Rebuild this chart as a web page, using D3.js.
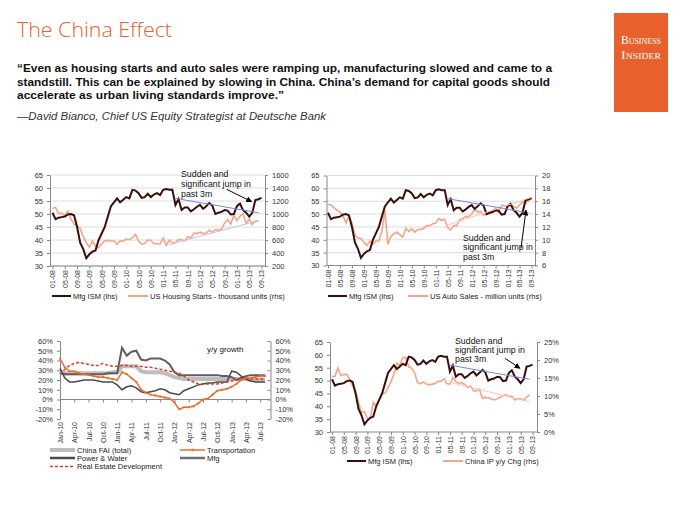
<!DOCTYPE html>
<html><head><meta charset="utf-8">
<script src="https://cdn.jsdelivr.net/npm/d3@7"></script>
<style>body{margin:0;background:#fff}svg{display:block}</style>
</head><body><svg id="c" width="700" height="525"></svg>
<script>
// ---------- DATA ----------
// Monthly, Jan-2008 .. Sep-2013
const ismValues = [
  50.5,48.0,48.6,48.8,49.0,49.8,50.0,49.5,45.0,39.0,36.5,33.0,
  34.5,35.5,36.0,40.0,42.5,45.0,49.0,53.0,54.5,56.0,54.5,55.5,
  56.5,56.0,59.3,59.0,58.0,56.2,56.5,57.8,56.5,57.5,58.0,57.3,
  59.3,59.6,59.3,59.3,53.5,55.8,51.5,52.5,52.5,51.0,51.8,52.8,
  53.5,52.0,53.0,54.2,53.2,50.0,50.5,50.8,51.5,51.3,49.8,50.0,
  53.0,54.0,51.5,50.5,49.0,50.5,55.4,55.7,56.2];
const housingStarts = [
  1084,1103,1005,1013,973,1046,923,844,820,777,652,560,
  490,582,505,478,540,585,594,586,585,534,588,581,
  614,604,636,687,583,536,546,599,594,543,545,539,
  630,517,600,554,561,608,604,586,649,627,707,699,
  720,696,707,752,715,761,748,768,863,916,845,982,
  898,964,1005,853,919,835,891,891];
const autoSales = [
  15.5,15.4,15.0,14.6,14.3,13.8,12.6,13.8,12.6,10.7,10.3,10.2,
  9.6,9.1,9.8,9.3,9.8,9.8,11.3,14.6,9.3,10.5,10.9,11.2,
  10.8,10.4,11.8,11.3,11.7,11.2,11.6,11.6,11.8,12.2,12.2,12.5,
  12.6,13.3,13.0,13.2,11.9,11.5,12.2,12.2,13.1,13.3,13.6,13.6,
  14.0,14.8,14.3,14.4,13.8,14.1,14.1,14.5,14.9,14.3,15.4,15.3,
  15.2,15.3,15.2,14.9,15.4,15.9,15.7,16.1,16.4];
const chinaIP = [
  15.4,15.4,17.8,15.7,16.0,16.0,14.7,12.8,11.4,8.2,5.4,5.7,
  3.8,3.8,8.3,7.3,8.9,10.7,10.8,12.3,13.9,16.1,19.2,18.5,
  20.7,20.7,18.1,17.8,16.5,13.7,13.4,13.9,13.3,13.1,13.3,13.5,
  14.1,14.1,14.8,13.4,13.3,15.1,14.0,13.5,13.8,13.2,12.4,12.8,
  11.4,11.4,11.9,9.3,9.6,9.5,9.2,8.9,9.2,9.6,10.1,10.3,
  9.9,9.9,8.9,9.3,9.2,8.9,9.7,10.4];
const topTickLabels = ["01-08","05-08","09-08","01-09","05-09","09-09","01-10","05-10","09-10",
  "01-11","05-11","09-11","01-12","05-12","09-12","01-13","05-13","09-13"];
// trend lines: [monthIndex, value]
const ismTrend = [[40,56.0],[67,50.5]];
const housingTrend = [[38,530],[67,900]];
const autoTrend = [[40,12.3],[68,16.6]];
const ipTrend = [[40,13.8],[67,8.4]];

// China FAI, monthly Jan-10 .. Aug-13 (y/y %)
const faiTickLabels = ["Jan-10","Apr-10","Jul-10","Oct-10","Jan-11","Apr-11","Jul-11","Oct-11",
  "Jan-12","Apr-12","Jul-12","Oct-12","Jan-13","Apr-13","Jul-13"];
const faiTotal = [29,27,27,27,27,27,27,27,27,27,27,28,28,34,34,34,34,29,28,28,28,28,27,25,
  23,22,21,21,21,21,21,21,21,21,21,21,21,21,21,21,20,20,20,20];
const faiPower = [32,22,18,18,19,20,20,20,19,18,18,18,15,10,13,14,12,8,7,8,9,11,10,7,
  6,5,9,11,13,15,16,17,17,18,18,18,29,28,24,21,19,18,18,18];
const faiMfg = [27,26,26,26,26,26,26,26,26,26,27,27,27,53,45,49,50,41,40,42,42,42,40,36,
  28,25,25,25,25,25,25,25,25,25,24,24,23,20,22,24,25,25,25,25];
const faiTransport = [42,33,29,29,27,26,25,24,23,23,22,21,20,28,26,22,18,10,7,5,4,3,2,1,
  -3,-10,-8,-8,-7,-4,0,1,5,9,10,11,13,16,20,22,22,23,24,24];
const faiRealEstate = [26,31,35,37,38,37,36,35,35,37,35,34,34,35,35,34,34,34,33,33,32,31,30,29,
  28,27,24,20,18,16,16,16,16,16,17,18,19,20,21,22,21,21,21,21];

// ---------- DRAWING ----------
const svg = d3.select("#c");
const FONT = "'Liberation Sans', Arial, sans-serif";
const ISM_C = "#3c0d0d", ORANGE_L = "#f5a585", TREND_B = "#7088e0";

svg.append("defs").append("marker").attr("id","arr").attr("viewBox","0 0 10 10")
  .attr("refX",9).attr("refY",5).attr("markerWidth",6).attr("markerHeight",6)
  .attr("orient","auto").attr("markerUnits","userSpaceOnUse")
  .append("path").attr("d","M0,0L10,5L0,10z").attr("fill","#000");

// header
svg.append("text").attr("x",17).attr("y",37).text("The China Effect")
  .attr("font-family","'Open Sans', 'Liberation Sans', sans-serif").attr("font-weight",300)
  .attr("font-size",21).attr("fill","#e8602c").attr("textLength",155).attr("lengthAdjust","spacingAndGlyphs");
const quote = [
  ["\u201CEven as housing starts and auto sales were ramping up, manufacturing slowed and came to a",535,72],
  ["standstill. This can be explained by slowing in China. China\u2019s demand for capital goods should",533,85.5],
  ["accelerate as urban living standards improve.\u201D",267,99]];
quote.forEach(q=>svg.append("text").attr("x",17).attr("y",q[2]).text(q[0])
  .attr("font-family",FONT).attr("font-weight","bold").attr("font-size",11.2).attr("fill","#111")
  .attr("textLength",q[1]).attr("lengthAdjust","spacingAndGlyphs"));
svg.append("text").attr("x",17).attr("y",119.5).text("\u2014David Bianco, Chief US Equity Strategist at Deutsche Bank")
  .attr("font-family",FONT).attr("font-style","italic").attr("font-size",11).attr("fill","#333")
  .attr("textLength",309).attr("lengthAdjust","spacingAndGlyphs");
svg.append("rect").attr("x",614).attr("y",13).attr("width",54).attr("height",99).attr("fill","#e8612c");
[["Business",44],["Insider",59]].forEach(t=>svg.append("text").attr("x",641).attr("y",t[1])
  .text(t[0]).attr("text-anchor","middle").attr("font-family","'Liberation Serif', serif")
  .attr("font-variant","small-caps").attr("font-size",13).attr("fill","#fff")
  .attr("textLength",40).attr("lengthAdjust","spacingAndGlyphs"));

function styleAxis(g){
  g.selectAll(".domain").attr("stroke","#888");
  g.selectAll(".tick line").attr("stroke","#888");
  g.selectAll("text").attr("font-family",FONT).attr("font-size",7.5).attr("fill","#333");
}

function dualPanel(o){
  const g = svg.append("g");
  const x = d3.scaleLinear().domain([0,68]).range(o.xr);
  const yL = d3.scaleLinear().domain([30,65]).range([o.yb,o.yt]);
  const yR = d3.scaleLinear().domain(o.rDom).range([o.yb,o.yt]);
  const lt = d3.range(30,66,5);
  if(o.grid) g.selectAll(".gl").data(lt).join("line").attr("x1",o.axL).attr("x2",o.axR)
    .attr("y1",d=>yL(d)).attr("y2",d=>yL(d)).attr("stroke","#dcdcdc");
  const la = g.append("g").attr("transform",`translate(${o.axL},0)`)
    .call(d3.axisLeft(yL).tickValues(lt).tickSize(3).tickSizeOuter(0).tickPadding(4));
  styleAxis(la);
  const ra = g.append("g").attr("transform",`translate(${o.axR},0)`)
    .call(d3.axisRight(yR).tickValues(o.rTicks).tickSize(3).tickSizeOuter(0).tickPadding(4).tickFormat(o.rFmt||(d=>d)));
  styleAxis(ra);
  const xa = g.append("g").attr("transform",`translate(0,${o.yb})`)
    .call(d3.axisBottom(x).tickValues(d3.range(0,69,4)).tickSize(3).tickFormat((d,i)=>topTickLabels[i]));
  xa.select(".domain").remove();
  styleAxis(xa);
  xa.selectAll("text").attr("transform","rotate(-90)").attr("text-anchor","end")
    .attr("x",-4).attr("y",0).attr("dy","0.35em").attr("font-size",7);
  g.append("line").attr("x1",o.axL).attr("x2",o.axR).attr("y1",o.yb).attr("y2",o.yb).attr("stroke","#888");
  // right series
  g.append("path").datum(o.rData).attr("fill","none").attr("stroke",ORANGE_L).attr("stroke-width",1.6)
    .attr("d",d3.line().x((d,i)=>x(i)).y(d=>yR(d)));
  // ISM
  g.append("path").datum(ismValues).attr("fill","none").attr("stroke",ISM_C).attr("stroke-width",2)
    .attr("d",d3.line().x((d,i)=>x(i)).y(d=>yL(d)));
  // trends
  g.append("path").datum(o.rTrend).attr("fill","none").attr("stroke",o.rTrendC).attr("stroke-width",1)
    .attr("d",d3.line().x(d=>x(d[0])).y(d=>yR(d[1])));
  g.append("path").datum(ismTrend).attr("fill","none").attr("stroke",TREND_B).attr("stroke-width",1)
    .attr("d",d3.line().x(d=>x(d[0])).y(d=>yL(d[1])));
  // annotation
  ["Sudden and","significant jump in","past 3m"].forEach((t,i)=>g.append("text")
    .attr("x",o.ann[0]).attr("y",o.ann[1]+i*o.annGap).text(t).attr("font-family",FONT)
    .attr("font-size",8.8).attr("fill","#111"));
  g.append("line").attr("x1",o.arr[0]).attr("y1",o.arr[1]).attr("x2",o.arr[2]).attr("y2",o.arr[3])
    .attr("stroke","#000").attr("stroke-width",1).attr("marker-end","url(#arr)");
  // legend
  const ly = o.leg[0];
  g.append("line").attr("x1",o.leg[1]).attr("x2",o.leg[1]+19).attr("y1",ly).attr("y2",ly).attr("stroke",ISM_C).attr("stroke-width",2);
  g.append("text").attr("x",o.leg[1]+21).attr("y",ly+2.6).text("Mfg ISM (lhs)").attr("font-family",FONT).attr("font-size",7.5).attr("fill","#222");
  g.append("line").attr("x1",o.leg[2]).attr("x2",o.leg[2]+20).attr("y1",ly).attr("y2",ly).attr("stroke",ORANGE_L).attr("stroke-width",2);
  g.append("text").attr("x",o.leg[2]+22).attr("y",ly+2.6).text(o.rName).attr("font-family",FONT).attr("font-size",7.5).attr("fill","#222");
}

dualPanel({xr:[52.5,261.5],axL:50,axR:265,yt:175,yb:266,grid:true,
  rDom:[200,1600],rTicks:d3.range(200,1601,200),rData:housingStarts,
  rTrend:housingTrend,rTrendC:"#c0c4f2",
  ann:[181,177],annGap:9.8,arr:[226.7,189.3,251.7,201.7],
  leg:[296,52,128],rName:"US Housing Starts - thousand units (rhs)"});
dualPanel({xr:[328,531.5],axL:326.5,axR:535,yt:175.5,yb:265.5,grid:true,
  rDom:[6,20],rTicks:d3.range(6,21,2),rData:autoSales,
  rTrend:autoTrend,rTrendC:"#f6c8b8",
  ann:[463,240.5],annGap:9.5,arr:[521,248.3,526,210],
  leg:[296,328,408],rName:"US Auto Sales - million units (rhs)"});
dualPanel({xr:[332,532.5],axL:330,axR:537,yt:342,yb:432,grid:false,
  rDom:[0,25],rTicks:d3.range(0,26,5),rFmt:d=>d+"%",rData:chinaIP,
  rTrend:ipTrend,rTrendC:"#f6c8b8",
  ann:[455,343.5],annGap:9,arr:[505,358.3,520,368.3],
  leg:[461,347,443],rName:"China IP y/y Chg (rhs)"});

// ---------- FAI panel ----------
(function(){
  const g = svg.append("g");
  const axL=60, axR=270.5, yt=341, yb=419;
  const x = d3.scaleLinear().domain([0,43]).range([60,265]);
  const y = d3.scaleLinear().domain([-20,60]).range([yb,yt]);
  const ticks = d3.range(-20,61,10);
  const la = g.append("g").attr("transform",`translate(${axL},0)`)
    .call(d3.axisLeft(y).tickValues(ticks).tickSize(3).tickSizeOuter(0).tickPadding(4).tickFormat(d=>d+"%"));
  styleAxis(la);
  const ra = g.append("g").attr("transform",`translate(${axR},0)`)
    .call(d3.axisLeft(y).tickValues(ticks).tickSize(3).tickSizeOuter(0).tickPadding(-8).tickFormat(d=>d+"%"));
  styleAxis(ra);
  ra.selectAll("text").attr("text-anchor","start");
  // zero line with ticks
  const za = g.append("g").attr("transform",`translate(0,${y(0)})`)
    .call(d3.axisBottom(x).tickValues(d3.range(0,44,3)).tickSize(3).tickFormat(""));
  za.select(".domain").remove();
  styleAxis(za);
  g.append("line").attr("x1",axL).attr("x2",axR).attr("y1",y(0)).attr("y2",y(0)).attr("stroke","#888");
  const xa = g.append("g").attr("transform",`translate(0,${yb})`)
    .call(d3.axisBottom(x).tickValues(d3.range(0,44,3)).tickSize(0).tickFormat((d,i)=>faiTickLabels[i]));
  xa.select(".domain").remove();
  styleAxis(xa);
  xa.selectAll("text").attr("transform","rotate(-90)").attr("text-anchor","end")
    .attr("x",-3).attr("y",0).attr("dy","0.35em").attr("font-size",7);
  const line = d3.line().x((d,i)=>x(i)).y(d=>y(d));
  const series = [
    {d:faiTotal,c:"#bdbdbd",w:4},
    {d:faiMfg,c:"#5e5e5e",w:2},
    {d:faiPower,c:"#4a4a4a",w:1.5},
    {d:faiRealEstate,c:"#e8372a",w:1.5,dash:"3,2"},
    {d:faiTransport,c:"#f26a2a",w:1.5}];
  series.forEach(s=>g.append("path").datum(s.d).attr("fill","none").attr("stroke",s.c)
    .attr("stroke-width",s.w).attr("stroke-dasharray",s.dash||null).attr("d",line));
  g.selectAll(".tm").data(faiTransport).join("circle").attr("cx",(d,i)=>x(i)).attr("cy",d=>y(d))
    .attr("r",1.1).attr("fill","#f26a2a");
  g.append("text").attr("x",207).attr("y",352).text("y/y growth").attr("font-family",FONT)
    .attr("font-size",8).attr("fill","#111");
  // legend
  const leg = [
    ["China FAI (total)",50,450,"#bdbdbd",4,null],
    ["Transportation",180,450,"#f26a2a",1.5,null],
    ["Power & Water",50,458,"#4a4a4a",2.5,null],
    ["Mfg",180,458,"#6e6e6e",2.5,null],
    ["Real Estate Development",50,466.5,"#e8372a",1.5,"3,2"]];
  leg.forEach(l=>{
    g.append("line").attr("x1",l[1]).attr("x2",l[1]+25).attr("y1",l[2]).attr("y2",l[2])
      .attr("stroke",l[3]).attr("stroke-width",l[4]).attr("stroke-dasharray",l[5]);
    g.append("text").attr("x",l[1]+27).attr("y",l[2]+2.6).text(l[0]).attr("font-family",FONT)
      .attr("font-size",7.5).attr("fill","#222");
  });
  g.append("circle").attr("cx",192.5).attr("cy",450).attr("r",1.3).attr("fill","#f26a2a");
})();
</script></body></html>
